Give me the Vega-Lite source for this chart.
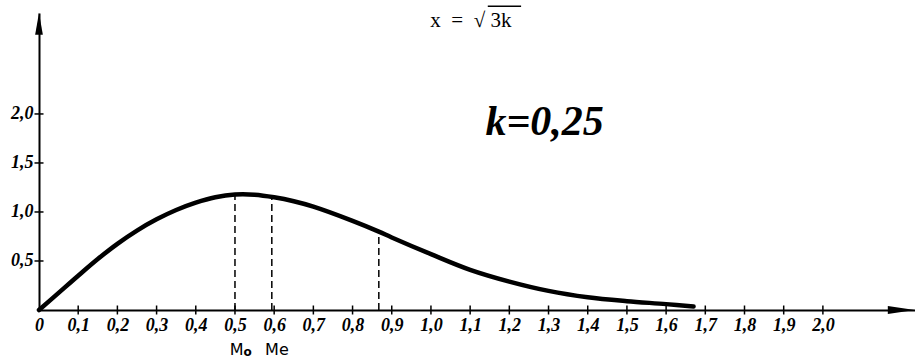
{
  "$schema": "https://vega.github.io/schema/vega-lite/v6.json",
  "autosize": "none",
  "width": 876,
  "height": 297,
  "padding": {"left": 39, "top": 13, "right": 0, "bottom": 49},
  "background": "white",
  "config": {"view": {"stroke": null}},
  "datasets": {
    "curve": [
      {"x": 0.0, "y": 0.0},
      {"x": 0.05, "y": 0.175},
      {"x": 0.1, "y": 0.35},
      {"x": 0.15, "y": 0.52},
      {"x": 0.2, "y": 0.675},
      {"x": 0.25, "y": 0.81},
      {"x": 0.3, "y": 0.925},
      {"x": 0.35, "y": 1.02},
      {"x": 0.4, "y": 1.095},
      {"x": 0.45, "y": 1.15},
      {"x": 0.5, "y": 1.178},
      {"x": 0.55, "y": 1.176},
      {"x": 0.6, "y": 1.15},
      {"x": 0.65, "y": 1.11},
      {"x": 0.7, "y": 1.055},
      {"x": 0.8, "y": 0.91},
      {"x": 0.867, "y": 0.8},
      {"x": 0.9, "y": 0.74},
      {"x": 1.0, "y": 0.57},
      {"x": 1.1, "y": 0.41},
      {"x": 1.2, "y": 0.29},
      {"x": 1.3, "y": 0.195},
      {"x": 1.4, "y": 0.13},
      {"x": 1.5, "y": 0.09},
      {"x": 1.6, "y": 0.06},
      {"x": 1.67, "y": 0.035}
    ],
    "dashes": [
      {"x": 0.5, "y": 1.178},
      {"x": 0.594, "y": 1.153},
      {"x": 0.867, "y": 0.8}
    ],
    "xticks": [
      {"x": 0.1, "y": 0}, {"x": 0.2, "y": 0}, {"x": 0.3, "y": 0}, {"x": 0.4, "y": 0},
      {"x": 0.5, "y": 0}, {"x": 0.6, "y": 0}, {"x": 0.7, "y": 0}, {"x": 0.8, "y": 0},
      {"x": 0.9, "y": 0}, {"x": 1.0, "y": 0}, {"x": 1.1, "y": 0}, {"x": 1.2, "y": 0},
      {"x": 1.3, "y": 0}, {"x": 1.4, "y": 0}, {"x": 1.5, "y": 0}, {"x": 1.6, "y": 0},
      {"x": 1.7, "y": 0}, {"x": 1.8, "y": 0}, {"x": 1.9, "y": 0}, {"x": 2.0, "y": 0}
    ],
    "yticks": [
      {"x": 0, "y": 0.5}, {"x": 0, "y": 1.0}, {"x": 0, "y": 1.5}, {"x": 0, "y": 2.0}
    ],
    "uparrow": [{"x": 0, "y": 2.92}],
    "rightarrow": [{"x": 2.2, "y": 0}],
    "formula": [{"x": 1.102, "y": 2.95, "t": "x\u00a0\u00a0=\u00a0\u00a0√\u00a03k"}],
    "overbar": [{"x": 1.145, "x2": 1.23, "y": 3.1}],
    "kval": [{"x": 1.29, "y": 1.92, "t": "k=0,25"}],
    "mlabels": [
      {"x": 0.504, "y": -0.408, "t": "M"},
      {"x": 0.607, "y": -0.408, "t": "Me"}
    ],
    "sublabels": [
      {"x": 0.532, "y": -0.43, "t": "o"}
    ]
  },
  "encoding": {
    "x": {
      "field": "x", "type": "quantitative",
      "scale": {"domain": [0, 2.235], "nice": false, "zero": false},
      "axis": {
        "title": null, "grid": false, "ticks": false,
        "values": [0, 0.1, 0.2, 0.3, 0.4, 0.5, 0.6, 0.7, 0.8, 0.9, 1.0, 1.1, 1.2, 1.3, 1.4, 1.5, 1.6, 1.7, 1.8, 1.9, 2.0],
        "labelExpr": "datum.value == 0 ? '0' : replace(format(datum.value, '.1f'), '.', ',')",
        "labelFont": "Liberation Sans Narrow", "labelFontStyle": "italic", "labelFontWeight": "bold",
        "labelFontSize": 18, "labelColor": "black", "labelPadding": 6,
        "domainColor": "black", "domainWidth": 2, "labelOverlap": false, "labelFlush": false
      }
    },
    "y": {
      "field": "y", "type": "quantitative",
      "scale": {"domain": [0, 3.03], "nice": false, "zero": false},
      "axis": {
        "title": null, "grid": false, "ticks": false,
        "values": [0.5, 1.0, 1.5, 2.0],
        "labelExpr": "replace(format(datum.value, '.1f'), '.', ',')",
        "labelFont": "Liberation Sans Narrow", "labelFontStyle": "italic", "labelFontWeight": "bold",
        "labelFontSize": 18, "labelColor": "black", "labelPadding": 6,
        "domainColor": "black", "domainWidth": 2
      }
    }
  },
  "layer": [
    {
      "data": {"name": "curve"},
      "mark": {"type": "line", "color": "black", "strokeWidth": 4.5, "interpolate": "catmull-rom", "strokeCap": "round"}
    },
    {
      "data": {"name": "dashes"},
      "mark": {"type": "rule", "color": "black", "strokeWidth": 1.5, "strokeDash": [7, 4]},
      "encoding": {"y": {"datum": 0, "type": "quantitative"}, "y2": {"field": "y"}}
    },
    {
      "data": {"name": "xticks"},
      "mark": {"type": "tick", "orient": "vertical", "color": "black", "size": 9, "thickness": 1.5, "opacity": 1}
    },
    {
      "data": {"name": "yticks"},
      "mark": {"type": "tick", "orient": "horizontal", "color": "black", "size": 9, "thickness": 1.5, "opacity": 1}
    },
    {
      "data": {"name": "uparrow"},
      "mark": {"type": "point", "shape": "M0,-1L0.35,1L-0.35,1Z", "size": 484, "filled": true, "color": "black", "opacity": 1}
    },
    {
      "data": {"name": "rightarrow"},
      "mark": {"type": "point", "shape": "M1,0L-1,-0.3L-1,0.3Z", "size": 729, "filled": true, "color": "black", "opacity": 1}
    },
    {
      "data": {"name": "formula"},
      "mark": {"type": "text", "font": "Liberation Serif", "fontSize": 21, "color": "black"},
      "encoding": {"text": {"field": "t"}}
    },
    {
      "data": {"name": "overbar"},
      "mark": {"type": "rule", "color": "black", "strokeWidth": 1.5},
      "encoding": {"x2": {"field": "x2"}}
    },
    {
      "data": {"name": "kval"},
      "mark": {"type": "text", "font": "Liberation Sans Narrow", "fontStyle": "italic", "fontWeight": "bold", "fontSize": 42, "color": "black"},
      "encoding": {"text": {"field": "t"}}
    },
    {
      "data": {"name": "mlabels"},
      "mark": {"type": "text", "font": "DejaVu Sans", "fontSize": 16, "color": "black"},
      "encoding": {"text": {"field": "t"}}
    },
    {
      "data": {"name": "sublabels"},
      "mark": {"type": "text", "font": "DejaVu Sans", "fontSize": 12, "fontWeight": "bold", "color": "black"},
      "encoding": {"text": {"field": "t"}}
    }
  ]
}
